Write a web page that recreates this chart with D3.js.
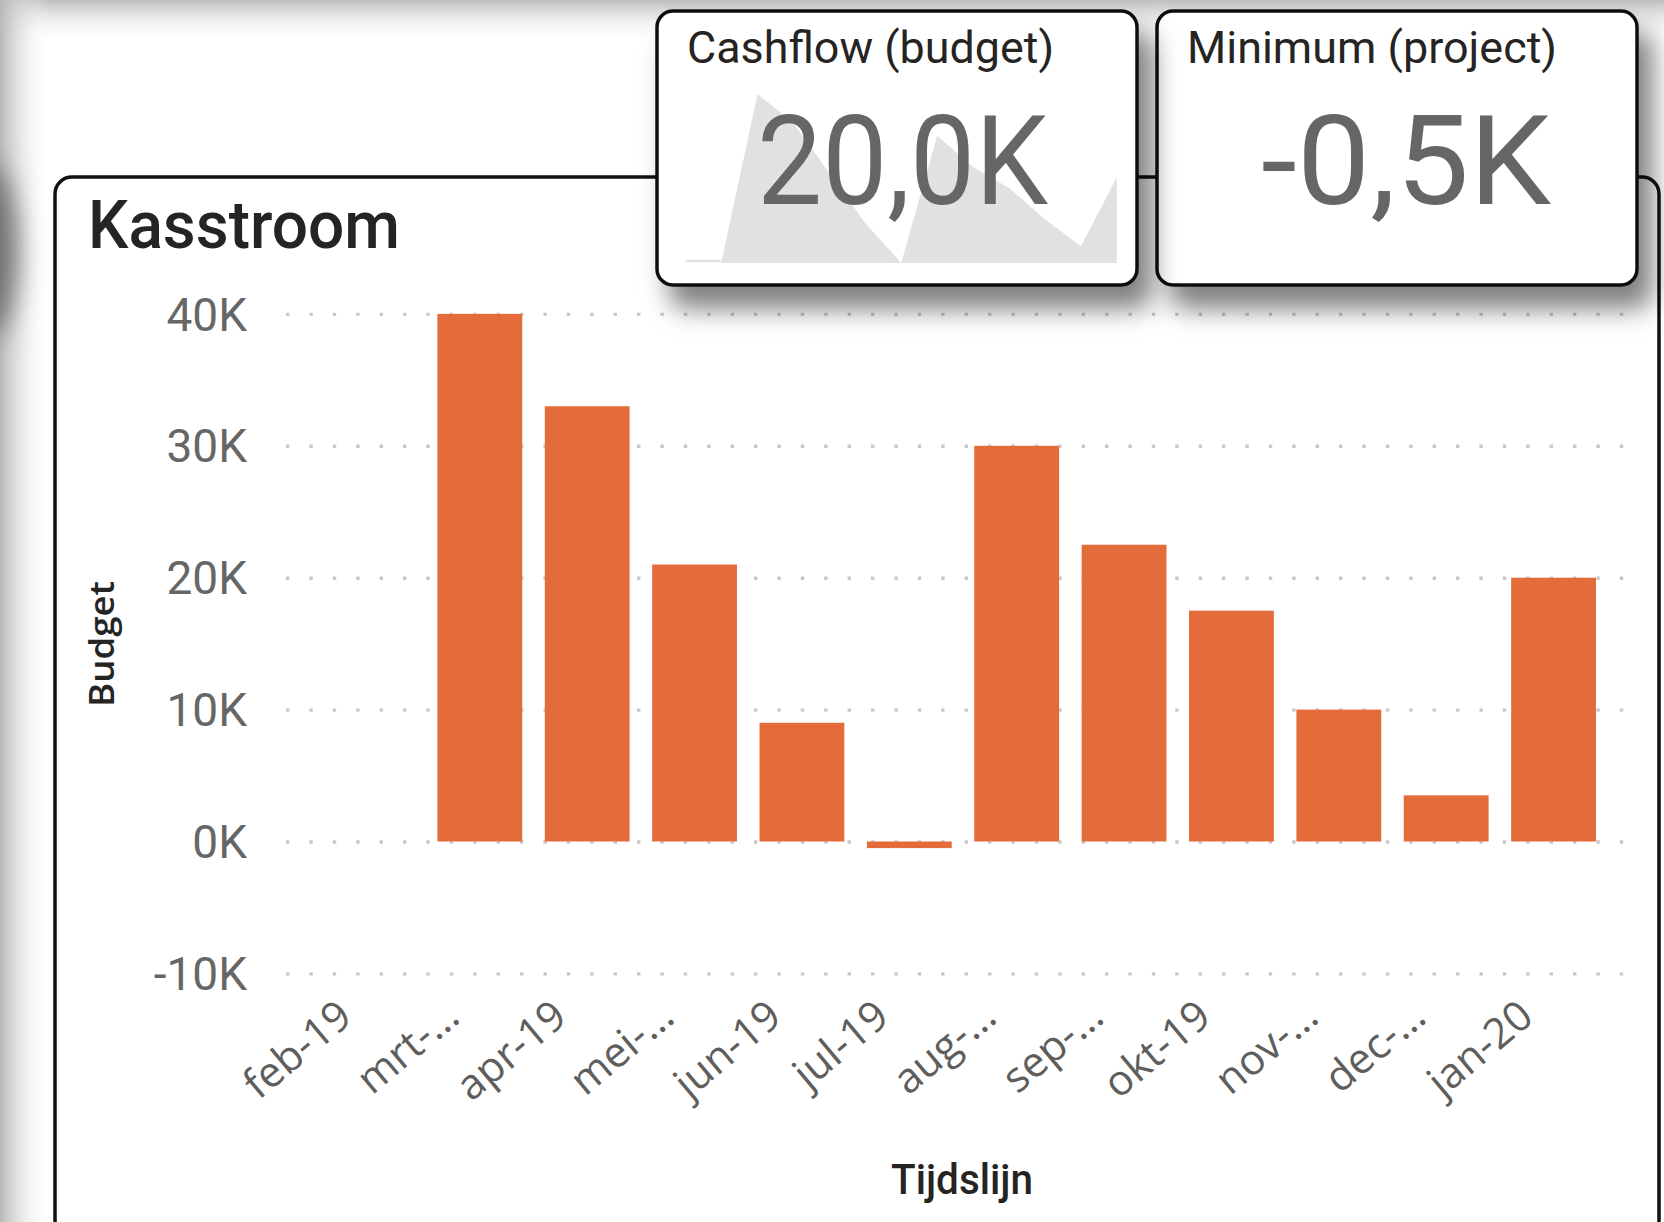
<!DOCTYPE html>
<html>
<head>
<meta charset="utf-8">
<script src="https://cdn.jsdelivr.net/npm/d3@7"></script>
<style>
  body { margin: 0; background: #fff; overflow: hidden; }
  svg { display: block; }
</style>
</head>
<body>
<script>
// data
var months = ["feb-19", "mrt-19", "apr-19", "mei-19", "jun-19", "jul-19", "aug-19", "sep-19", "okt-19", "nov-19", "dec-19", "jan-20"];
var monthLabels = ["feb-19", "mrt-…", "apr-19", "mei-…", "jun-19", "jul-19", "aug-…", "sep-…", "okt-19", "nov-…", "dec-…", "jan-20"];
var budget = [0, 40000, 33000, 21000, 9000, -500, 30000, 22500, 17500, 10000, 3500, 20000];
var yTicks = [-10000, 0, 10000, 20000, 30000, 40000];

var W = 1664, H = 1222;
var ink = "#252423", grey = "#666666", orange = "#e46c3a";

var svg = d3.select("body").append("svg")
    .attr("width", W)
    .attr("height", H);

var defs = svg.append("defs");

function gradient(id, x2, y2, c0, c1) {
    var lg = defs.append("linearGradient")
        .attr("id", id)
        .attr("x1", 0).attr("y1", 0)
        .attr("x2", x2).attr("y2", y2);
    lg.append("stop").attr("offset", 0).attr("stop-color", c0);
    lg.append("stop").attr("offset", 1).attr("stop-color", c1).attr("stop-opacity", 0);
}
gradient("topShade", 0, 1, "#bdbdbd", "#ffffff");
gradient("leftShade", 1, 0, "#b8b8b8", "#ffffff");

defs.append("filter").attr("id", "blur")
    .attr("x", "-100%").attr("y", "-100%").attr("width", "300%").attr("height", "300%")
  .append("feGaussianBlur").attr("stdDeviation", 14);

defs.append("filter").attr("id", "cardShadow")
    .attr("x", "-20%").attr("y", "-20%").attr("width", "150%").attr("height", "170%")
  .append("feDropShadow")
    .attr("dx", 14).attr("dy", 22)
    .attr("stdDeviation", 13)
    .attr("flood-color", "#000")
    .attr("flood-opacity", 0.5);

// page edges (shadows of visuals outside the view)
svg.append("rect").attr("x", 0).attr("y", 0).attr("width", W).attr("height", 42)
    .attr("fill", "url(#topShade)");
svg.append("rect").attr("x", 0).attr("y", 0).attr("width", 50).attr("height", H)
    .attr("fill", "url(#leftShade)");
svg.append("ellipse").attr("cx", -12).attr("cy", 250).attr("rx", 28).attr("ry", 85)
    .attr("fill", "#6e6e6e").attr("filter", "url(#blur)");

// main card
svg.append("rect")
    .attr("x", 55).attr("y", 177)
    .attr("width", 1604).attr("height", 1060)
    .attr("rx", 17)
    .attr("fill", "#fff")
    .attr("stroke", "#111")
    .attr("stroke-width", 3.5);

svg.append("text")
    .attr("x", 88).attr("y", 248)
    .attr("font-family", "Roboto")
    .attr("font-weight", 500)
    .attr("font-size", 66)
    .attr("textLength", 312)
    .attr("lengthAdjust", "spacingAndGlyphs")
    .attr("fill", ink)
    .text("Kasstroom");

// scales
var x = d3.scaleBand()
    .domain(months)
    .range([286, 1640])
    .paddingInner(0.21)
    .paddingOuter(0.41);

var y = d3.scaleLinear()
    .domain([-10000, 40000])
    .range([973.4, 313.9]);

// dotted gridlines
var grid = svg.append("g")
    .attr("transform", "translate(286,0)")
    .call(d3.axisLeft(y).tickValues(yTicks).tickSize(-(1640 - 286)).tickFormat(""));
grid.select(".domain").remove();
grid.selectAll("line")
    .attr("stroke", "#c8c8c8")
    .attr("stroke-width", 3.4)
    .attr("stroke-dasharray", "3.4,20");

// y tick labels
var yAxis = svg.append("g")
    .attr("transform", "translate(247,0)")
    .call(d3.axisLeft(y).tickValues(yTicks).tickSize(0).tickPadding(0)
        .tickFormat(function (d) { return (d / 1000) + "K"; }));
yAxis.select(".domain").remove();
yAxis.selectAll("text")
    .attr("dy", "0.35em")
    .attr("font-family", "Roboto")
    .attr("font-size", 46)
    .attr("fill", grey);

// bars
svg.append("g").selectAll("rect")
    .data(budget)
    .join("rect")
    .attr("x", function (d, i) { return x(months[i]); })
    .attr("y", function (d) { return y(Math.max(0, d)); })
    .attr("width", x.bandwidth())
    .attr("height", function (d) { return Math.abs(y(d) - y(0)); })
    .attr("fill", orange);

// x tick labels, rotated
var xAxis = svg.append("g")
    .attr("transform", "translate(0,973.4)")
    .call(d3.axisBottom(x).tickSize(0)
        .tickFormat(function (d, i) { return monthLabels[i]; }));
xAxis.select(".domain").remove();
xAxis.selectAll("text")
    .attr("x", 0).attr("y", 0).attr("dy", 0)
    .attr("text-anchor", "end")
    .attr("transform", "translate(-18,47) rotate(-40)")
    .attr("font-family", "'Open Sans'")
    .attr("font-size", 42)
    .attr("fill", "#605e5c");

// axis titles
svg.append("text")
    .attr("transform", "translate(114,644) rotate(-90)")
    .attr("text-anchor", "middle")
    .attr("font-family", "'Open Sans'")
    .attr("font-weight", 600)
    .attr("font-size", 34)
    .attr("textLength", 126)
    .attr("lengthAdjust", "spacingAndGlyphs")
    .attr("fill", ink)
    .text("Budget");

svg.append("text")
    .attr("x", 962).attr("y", 1194)
    .attr("text-anchor", "middle")
    .attr("font-family", "Roboto")
    .attr("font-weight", 500)
    .attr("font-size", 42)
    .attr("textLength", 142)
    .attr("lengthAdjust", "spacingAndGlyphs")
    .attr("fill", ink)
    .text("Tijdslijn");

// KPI cards
function fmtK(v) {
    return (v / 1000).toFixed(1).replace(".", ",") + "K";
}

function draw_card(x0, title, titleLen, value, valueX, valueLen, spark) {
    var g = svg.append("g");
    g.append("rect")
        .attr("x", x0).attr("y", 11)
        .attr("width", 480).attr("height", 274)
        .attr("rx", 16)
        .attr("fill", "#fff")
        .attr("stroke", "#111")
        .attr("stroke-width", 3.5)
        .attr("filter", "url(#cardShadow)");

    if (spark) {
        var sx = d3.scaleLinear().domain([-1, budget.length - 1]).range([685.7, 1116.8]);
        var sy = d3.scaleLinear().domain([d3.min(budget), d3.max(budget)]).range([263, 94]);
        g.append("line")
            .attr("x1", sx(-1)).attr("x2", sx(0))
            .attr("y1", sy(0)).attr("y2", sy(0))
            .attr("stroke", "#e3e3e3")
            .attr("stroke-width", 2.5);
        g.append("path")
            .datum(budget)
            .attr("d", d3.area()
                .x(function (d, i) { return sx(i); })
                .y0(263)
                .y1(function (d) { return sy(d); }))
            .attr("fill", "#e1e1e1");
    }

    g.append("text")
        .attr("x", x0 + 30).attr("y", 63)
        .attr("font-family", "Roboto")
        .attr("font-size", 44)
        .attr("textLength", titleLen)
        .attr("lengthAdjust", "spacingAndGlyphs")
        .attr("fill", ink)
        .text(title);

    g.append("text")
        .attr("x", valueX).attr("y", 204)
        .attr("font-family", "Roboto")
        .attr("font-size", 124)
        .attr("textLength", valueLen)
        .attr("lengthAdjust", "spacingAndGlyphs")
        .attr("fill", grey)
        .text(value);
}

draw_card(1157, "Minimum (project)", 370, fmtK(d3.min(budget)), 1261, 290, false);
draw_card(657, "Cashflow (budget)", 367, fmtK(budget[budget.length - 1]), 757, 291, true);
</script>
</body>
</html>
